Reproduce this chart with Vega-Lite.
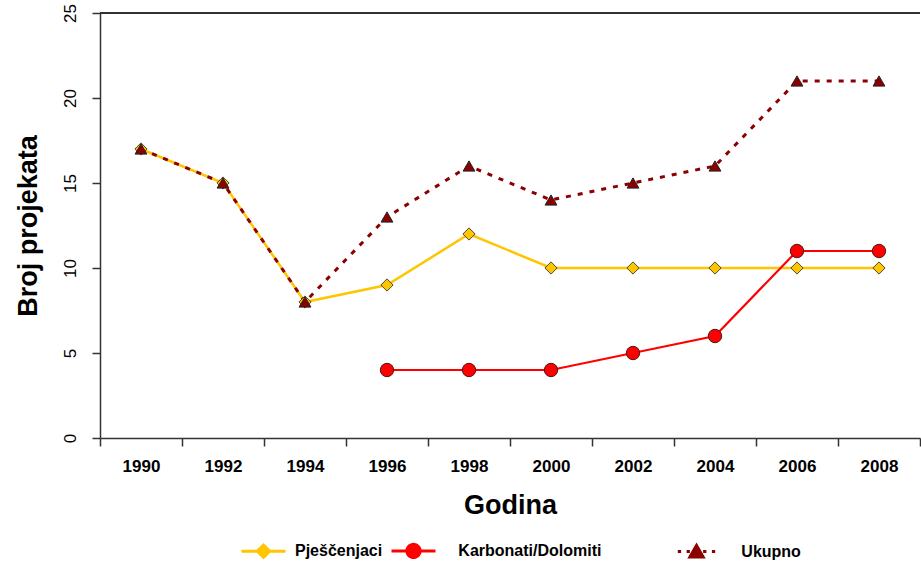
{
  "$schema": "https://vega.github.io/schema/vega-lite/v6.json",
  "width": 820,
  "height": 425,
  "autosize": "none",
  "padding": {"left": 100, "top": 13, "right": 1, "bottom": 123},
  "background": "white",
  "config": {
    "view": {"stroke": null},
    "font": "Liberation Sans",
    "axis": {"grid": false, "domainColor": "#333333", "domainWidth": 1.5, "tickColor": "#333333", "tickWidth": 1.5, "tickSize": 8, "labelColor": "#000000", "titleColor": "#000000"}
  },
  "data": {
    "values": [
      {"godina": "1990", "serija": "Pješčenjaci", "broj": 17},
      {"godina": "1992", "serija": "Pješčenjaci", "broj": 15},
      {"godina": "1994", "serija": "Pješčenjaci", "broj": 8},
      {"godina": "1996", "serija": "Pješčenjaci", "broj": 9},
      {"godina": "1998", "serija": "Pješčenjaci", "broj": 12},
      {"godina": "2000", "serija": "Pješčenjaci", "broj": 10},
      {"godina": "2002", "serija": "Pješčenjaci", "broj": 10},
      {"godina": "2004", "serija": "Pješčenjaci", "broj": 10},
      {"godina": "2006", "serija": "Pješčenjaci", "broj": 10},
      {"godina": "2008", "serija": "Pješčenjaci", "broj": 10},
      {"godina": "1996", "serija": "Karbonati/Dolomiti", "broj": 4},
      {"godina": "1998", "serija": "Karbonati/Dolomiti", "broj": 4},
      {"godina": "2000", "serija": "Karbonati/Dolomiti", "broj": 4},
      {"godina": "2002", "serija": "Karbonati/Dolomiti", "broj": 5},
      {"godina": "2004", "serija": "Karbonati/Dolomiti", "broj": 6},
      {"godina": "2006", "serija": "Karbonati/Dolomiti", "broj": 11},
      {"godina": "2008", "serija": "Karbonati/Dolomiti", "broj": 11},
      {"godina": "1990", "serija": "Ukupno", "broj": 17},
      {"godina": "1992", "serija": "Ukupno", "broj": 15},
      {"godina": "1994", "serija": "Ukupno", "broj": 8},
      {"godina": "1996", "serija": "Ukupno", "broj": 13},
      {"godina": "1998", "serija": "Ukupno", "broj": 16},
      {"godina": "2000", "serija": "Ukupno", "broj": 14},
      {"godina": "2002", "serija": "Ukupno", "broj": 15},
      {"godina": "2004", "serija": "Ukupno", "broj": 16},
      {"godina": "2006", "serija": "Ukupno", "broj": 21},
      {"godina": "2008", "serija": "Ukupno", "broj": 21}
    ]
  },
  "encoding": {
    "x": {
      "field": "godina",
      "type": "ordinal",
      "scale": {"type": "band", "paddingInner": 0, "paddingOuter": 0},
      "bandPosition": 0.5,
      "axis": {
        "title": "Godina",
        "titleFontSize": 27,
        "titleFontWeight": "bold",
        "titlePadding": 18,
        "labelAngle": 0,
        "labelFontSize": 17,
        "labelFontWeight": "bold",
        "labelPadding": 12,
        "tickBand": "extent"
      }
    },
    "y": {
      "field": "broj",
      "type": "quantitative",
      "scale": {"domain": [0, 25], "nice": false},
      "axis": {
        "title": "Broj projekata",
        "titleFontSize": 27,
        "titleFontWeight": "bold",
        "titlePadding": 19,
        "values": [0, 5, 10, 15, 20, 25],
        "labelAngle": -90,
        "labelAlign": "center",
        "labelBaseline": "bottom",
        "labelFontSize": 17,
        "labelFontWeight": "normal",
        "labelPadding": 13
      }
    },
    "color": {
      "field": "serija",
      "type": "nominal",
      "scale": {"domain": ["Pješčenjaci", "Karbonati/Dolomiti", "Ukupno"], "range": ["#FFC600", "#FF0000", "#8B0000"]},
      "legend": {
        "orient": "none",
        "legendX": 140,
        "legendY": 514,
        "direction": "horizontal",
        "title": null,
        "symbolSize": 1936,
        "labelFontSize": 16,
        "labelFontWeight": "bold",
        "labelColor": "#000000",
        "labelOffset": 8,
        "columnPadding": 2,
        "labelLimit": 500,
        "labelExpr": "datum.label == 'Karbonati/Dolomiti' ? '\u200b\u00a0\u00a0\u00a0Karbonati/Dolomiti\u00a0\u00a0\u00a0\u00a0\u00a0\u00a0\u00a0\u00a0\u00a0\u00a0\u00a0\u00a0\u00a0\u00a0\u00a0\u200b' : datum.label == 'Ukupno' ? '\u200b\u00a0\u00a0\u00a0Ukupno' : datum.label",
        "encode": {
          "symbols": {
            "update": {
              "shape": {"signal": "datum.value == 'Pješčenjaci' ? 'M-1,0L-0.28,0M0.28,0L1,0M0,-0.28L0.28,0L0,0.28L-0.28,0Z' : datum.value == 'Karbonati/Dolomiti' ? 'M-1,0L-0.3,0M0.3,0L1,0M0.3,0A0.3,0.3,0,1,1,-0.3,0A0.3,0.3,0,1,1,0.3,0Z' : 'M-0.85,0L-0.7,0M-0.45,0L-0.3,0M0,-0.28L0.3,0.24L-0.3,0.24ZM0.3,0L0.45,0M0.7,0L0.85,0'"},
              "fill": {"scale": "color", "field": "value"},
              "stroke": {"scale": "color", "field": "value"},
              "strokeWidth": {"value": 3},
              "strokeDash": {"value": [1, 0]},
              "opacity": {"value": 1},
              "fillOpacity": {"value": 1}
            }
          }
        }
      }
    }
  },
  "layer": [
    {
      "mark": {"type": "rule", "color": "#333333", "strokeWidth": 1.5},
      "encoding": {"y": {"datum": 25}, "color": {"value": "#333333"}, "x": null}
    },
    {
      "transform": [{"filter": "datum.serija == 'Pješčenjaci'"}],
      "mark": {"type": "line", "strokeWidth": 2.5}
    },
    {
      "transform": [{"filter": "datum.serija == 'Karbonati/Dolomiti'"}],
      "mark": {"type": "line", "strokeWidth": 2.2}
    },
    {
      "transform": [{"filter": "datum.serija == 'Ukupno'"}],
      "mark": {"type": "line", "strokeWidth": 3, "strokeDash": [5, 7], "strokeCap": "butt"}
    },
    {
      "transform": [{"filter": "datum.serija == 'Pješčenjaci'"}],
      "mark": {"type": "point", "shape": "diamond", "filled": true, "size": 150, "stroke": "#4a4a2a", "strokeWidth": 1, "opacity": 1}
    },
    {
      "transform": [{"filter": "datum.serija == 'Karbonati/Dolomiti'"}],
      "mark": {"type": "point", "shape": "circle", "filled": true, "size": 180, "stroke": "#4a1a1a", "strokeWidth": 1, "opacity": 1}
    },
    {
      "transform": [{"filter": "datum.serija == 'Ukupno'"}],
      "mark": {"type": "point", "shape": "triangle-up", "filled": true, "size": 140, "stroke": "#222222", "strokeWidth": 1, "opacity": 1}
    }
  ]
}
